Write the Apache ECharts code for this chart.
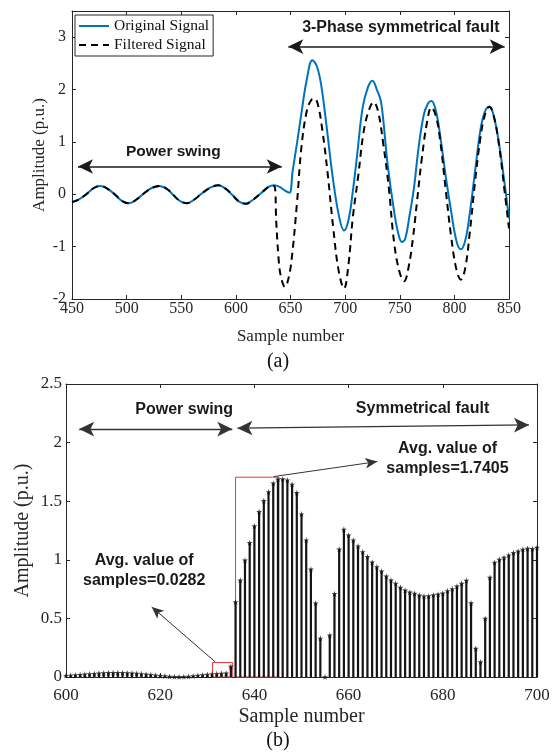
<!DOCTYPE html>
<html>
<head>
<meta charset="utf-8">
<title>Power swing vs symmetrical fault</title>
<script src="https://cdn.jsdelivr.net/npm/echarts@6/dist/echarts.min.js"></script>
<style>
  html, body { margin: 0; padding: 0; background: #fff; }
  #chart { width: 555px; height: 752px; }
</style>
</head>
<body>
<div id="chart"></div>
<script>
// (a) signals, sample number / amplitude
const origX = [450, 456, 463, 470, 476, 483, 490, 496, 502, 509, 516, 523, 530, 537, 543, 549, 555, 562, 569, 577,
  584, 591, 597, 603, 609, 616, 623, 630, 635, 640, 645, 649, 652, 656, 660, 665, 670, 674, 678, 683,
  689, 695, 699, 703, 707, 711, 716, 721, 725, 729, 733, 739, 745, 749, 752, 755, 759, 763, 767, 772,
  776, 779, 783, 787, 792, 797, 802, 806, 810, 814, 819, 824, 828, 832, 836, 841, 846, 850];
const origY = [-0.15, -0.10, 0.0, 0.12, 0.16, 0.10, -0.02, -0.13, -0.17, -0.10, 0.02, 0.12, 0.16, 0.10, -0.02, -0.13, -0.17, -0.10, 0.02, 0.13,
  0.17, 0.10, -0.02, -0.14, -0.18, -0.10, 0.02, 0.14, 0.17, 0.14, 0.07, 0.03, 0.45, 0.98, 1.55, 2.2, 2.56, 2.45, 2.1, 1.3,
  0.27, -0.48, -0.69, -0.5, 0.05, 0.75, 1.65, 2.05, 2.17, 2.0, 1.75, 0.55, -0.35, -0.78, -0.91, -0.85, -0.4, 0.12, 0.85, 1.52,
  1.74, 1.78, 1.6, 1.12, 0.35, -0.32, -0.9, -1.05, -0.88, -0.38, 0.45, 1.25, 1.58, 1.67, 1.5, 0.95, 0.2, -0.46];

const filtX = [450, 456, 463, 470, 476, 483, 490, 496, 502, 509, 516, 523, 530, 537, 543, 549, 555, 562, 569, 577,
  584, 591, 597, 603, 609, 616, 623, 630, 635, 637, 639, 641, 645, 648, 651, 656, 660, 665, 669, 672,
  675, 679, 684, 689, 694, 699, 703, 707, 712, 717, 722, 726, 730, 735, 740, 745, 750, 754, 758, 762,
  766, 770, 775, 779, 783, 787, 792, 797, 802, 806, 810, 814, 819, 824, 828, 832, 836, 841, 846, 850];
const filtY = [-0.15, -0.10, 0.0, 0.12, 0.16, 0.10, -0.02, -0.13, -0.17, -0.10, 0.02, 0.12, 0.16, 0.10, -0.02, -0.13, -0.17, -0.10, 0.02, 0.13,
  0.17, 0.10, -0.02, -0.14, -0.18, -0.10, 0.02, 0.14, 0.16, -0.55, -1.2, -1.55, -1.77, -1.62, -1.25, -0.15, 0.9, 1.6, 1.8, 1.83,
  1.72, 1.25, 0.4, -0.62, -1.45, -1.8, -1.35, -0.45, 0.35, 1.2, 1.62, 1.76, 1.6, 0.95, 0.12, -0.95, -1.5, -1.66, -1.4, -0.85,
  -0.1, 0.65, 1.38, 1.66, 1.5, 1.03, 0.1, -0.8, -1.45, -1.63, -1.4, -0.75, 0.25, 1.1, 1.52, 1.67, 1.5, 0.92, 0.05, -0.65];

// (b) stem samples 600..700
const stemX = [600, 601, 602, 603, 604, 605, 606, 607, 608, 609, 610, 611, 612, 613, 614, 615, 616, 617, 618, 619,
  620, 621, 622, 623, 624, 625, 626, 627, 628, 629, 630, 631, 632, 633, 634, 635, 636, 637, 638, 639,
  640, 641, 642, 643, 644, 645, 646, 647, 648, 649, 650, 651, 652, 653, 654, 655, 656, 657, 658, 659,
  660, 661, 662, 663, 664, 665, 666, 667, 668, 669, 670, 671, 672, 673, 674, 675, 676, 677, 678, 679,
  680, 681, 682, 683, 684, 685, 686, 687, 688, 689, 690, 691, 692, 693, 694, 695, 696, 697, 698, 699, 700];
const stemY = [0.012, 0.014, 0.017, 0.02, 0.023, 0.026, 0.029, 0.032, 0.034, 0.036, 0.037, 0.037, 0.036, 0.035, 0.033, 0.030, 0.027, 0.023, 0.019, 0.015,
  0.011, 0.008, 0.005, 0.003, 0.002, 0.003, 0.005, 0.009, 0.013, 0.017, 0.021, 0.025, 0.028, 0.030, 0.033, 0.09, 0.64, 0.826, 0.997, 1.145,
  1.288, 1.41, 1.504, 1.58, 1.653, 1.687, 1.69, 1.68, 1.644, 1.573, 1.39, 1.168, 0.92, 0.63, 0.33, 0.0, 0.356, 0.71, 1.09, 1.26,
  1.21, 1.168, 1.117, 1.068, 1.026, 0.98, 0.94, 0.903, 0.86, 0.826, 0.798, 0.764, 0.741, 0.724, 0.712, 0.698, 0.69, 0.692, 0.70, 0.706,
  0.715, 0.735, 0.752, 0.775, 0.798, 0.824, 0.632, 0.243, 0.128, 0.499, 0.85, 0.978, 1.003, 1.02, 1.04, 1.06, 1.074, 1.089, 1.097, 1.094, 1.106];

const serif = '"Liberation Serif", "Times New Roman", serif';
const sans = '"Liberation Sans", Arial, sans-serif';
const axisColor = '#262626';
const star = 'path://M50,0 L61,35 L98,35 L68,57 L79,91 L50,70 L21,91 L32,57 L2,35 L39,35 Z';

function pairs(xs, ys) {
  return xs.map((x, i) => [x, ys[i]]);
}

// shared look for the boxed MATLAB style axes
function axis(o) {
  return Object.assign({
    type: 'value',
    nameMoveOverlap: false,
    axisLine: { show: true, onZero: false, lineStyle: { color: axisColor, width: 1 } },
    axisTick: { show: true, inside: true, length: 4, lineStyle: { color: axisColor } },
    splitLine: { show: false },
    nameTextStyle: { color: axisColor, fontFamily: serif },
    axisLabel: { color: axisColor, fontFamily: serif, fontSize: 16 }
  }, o);
}

function label(text, x, y, size) {
  return {
    coord: [x, y], symbol: 'circle', symbolSize: 1,
    itemStyle: { color: 'rgba(0,0,0,0)' },
    label: {
      show: true, position: 'inside', formatter: text,
      fontFamily: sans, fontWeight: 'bold', fontSize: size, color: '#1a1a1a', lineHeight: 20
    }
  };
}

const arrowLine = { color: '#1a1a1a', width: 1.5, type: 'solid' };

const option = {
  animation: false,
  grid: [
    { left: 72, top: 11, width: 437, height: 288 },
    { left: 66, top: 384, width: 471, height: 293 }
  ],
  legend: {
    data: ['Original Signal', 'Filtered Signal'],
    orient: 'vertical',
    left: 75, top: 15,
    padding: [3, 4, 3, 3],
    itemWidth: 30, itemHeight: 14, itemGap: 3,
    backgroundColor: '#fff',
    borderColor: '#262626', borderWidth: 1,
    selectedMode: false,
    // hide the symbol the line legend icon draws, keep the line
    itemStyle: { color: 'rgba(0,0,0,0)', borderColor: 'rgba(0,0,0,0)', borderWidth: 0, opacity: 0 },
    textStyle: { fontFamily: serif, fontSize: 15.5, color: '#111' }
  },
  xAxis: [
    axis({ gridIndex: 0, min: 450, max: 850, interval: 50, name: 'Sample number', nameLocation: 'middle', nameGap: 29,
      nameTextStyle: { color: axisColor, fontFamily: serif, fontSize: 17 },
      axisLabel: { color: axisColor, fontFamily: serif, fontSize: 16, margin: 2 } }),
    axis({ gridIndex: 0, min: 450, max: 850, interval: 50, position: 'top', axisLabel: { show: false } }),
    axis({ gridIndex: 1, min: 600, max: 700, interval: 20, name: 'Sample number', nameLocation: 'middle', nameGap: 30,
      nameTextStyle: { color: axisColor, fontFamily: serif, fontSize: 20 },
      axisLabel: { color: axisColor, fontFamily: serif, fontSize: 17, margin: 10 } }),
    axis({ gridIndex: 1, min: 600, max: 700, interval: 20, position: 'top', axisLabel: { show: false } })
  ],
  yAxis: [
    axis({ gridIndex: 0, min: -2, max: 3.5, interval: 1, name: 'Amplitude (p.u.)', nameLocation: 'middle', nameGap: 24,
      nameTextStyle: { color: axisColor, fontFamily: serif, fontSize: 17 },
      axisLabel: { color: axisColor, fontFamily: serif, fontSize: 16, margin: 6, showMaxLabel: false } }),
    axis({ gridIndex: 0, min: -2, max: 3.5, interval: 1, position: 'right', axisLabel: { show: false } }),
    axis({ gridIndex: 1, min: 0, max: 2.5, interval: 0.5, name: 'Amplitude (p.u.)', nameLocation: 'middle', nameGap: 33,
      nameTextStyle: { color: axisColor, fontFamily: serif, fontSize: 20 },
      axisLabel: { color: axisColor, fontFamily: serif, fontSize: 17, margin: 4 } }),
    axis({ gridIndex: 1, min: 0, max: 2.5, interval: 0.5, position: 'right', axisLabel: { show: false } })
  ],
  series: [
    {
      name: 'Original Signal', type: 'line', xAxisIndex: 0, yAxisIndex: 0,
      data: pairs(origX, origY), smooth: 0.4, symbol: 'none',
      lineStyle: { color: '#0072BD', width: 2 }, itemStyle: { color: '#0072BD' }, z: 2
    },
    {
      name: 'Filtered Signal', type: 'line', xAxisIndex: 0, yAxisIndex: 0,
      data: pairs(filtX, filtY), smooth: 0.4, symbol: 'none',
      lineStyle: { color: '#000', width: 2, type: [7, 5] }, itemStyle: { color: '#000' }, z: 3,
      markLine: {
        silent: true, symbol: ['arrow', 'arrow'], symbolSize: [11, 15],
        lineStyle: arrowLine, label: { show: false },
        data: [
          [{ coord: [455.5, 0.53] }, { coord: [642, 0.53] }],
          [{ coord: [648, 2.82] }, { coord: [846, 2.82] }]
        ]
      },
      markPoint: {
        silent: true,
        data: [
          label('Power swing', 542.7, 0.81, 15.5),
          label('3-Phase symmetrical fault', 751, 3.18, 16)
        ]
      }
    },
    {
      name: 'stems', type: 'bar', xAxisIndex: 2, yAxisIndex: 2,
      data: pairs(stemX, stemY), barWidth: 2.2,
      itemStyle: { color: '#141414' },
      markArea: {
        silent: true,
        itemStyle: { color: 'rgba(0,0,0,0)', borderColor: '#e8383d', borderWidth: 1 },
        data: [
          [{ coord: [631.1, 0.123] }, { coord: [635.4, -0.05] }],
          [{ coord: [636, 1.705] }, { coord: [645.2, -0.03] }]
        ]
      },
      markLine: {
        silent: true, symbol: ['arrow', 'arrow'], symbolSize: [11, 15],
        lineStyle: { color: '#333', width: 1.3, type: 'solid' }, label: { show: false },
        data: [
          [{ coord: [602.8, 2.115] }, { coord: [635.3, 2.115] }],
          [{ coord: [636.4, 2.123] }, { coord: [698.3, 2.151] }],
          [{ coord: [644.1, 1.71], symbol: 'none' }, { coord: [666.1, 1.838], symbolSize: [8, 12], lineStyle: { width: 1 } }],
          [{ coord: [631.7, 0.128], symbol: 'none' }, { coord: [618.2, 0.598], symbolSize: [8, 12], lineStyle: { width: 1 } }]
        ]
      },
      markPoint: {
        silent: true,
        data: [
          label('Power swing', 625.1, 2.285, 16),
          label('Symmetrical fault', 675.7, 2.294, 16),
          label('Avg. value of\nsamples=1.7405', 681, 1.86, 16),
          label('Avg. value of\nsamples=0.0282', 616.6, 0.906, 16)
        ]
      }
    },
    {
      name: 'stem heads', type: 'scatter', xAxisIndex: 2, yAxisIndex: 2,
      data: pairs(stemX, stemY), symbol: star, symbolSize: 6,
      itemStyle: { color: '#111' }, z: 4
    }
  ],
  graphic: [
    { type: 'text', x: 278, y: 362, style: { text: '(a)', font: '20px ' + serif, fill: '#111', align: 'center', verticalAlign: 'middle' } },
    { type: 'text', x: 278, y: 741, style: { text: '(b)', font: '20px ' + serif, fill: '#111', align: 'center', verticalAlign: 'middle' } }
  ]
};

const myChart = echarts.init(document.getElementById('chart'));
myChart.setOption(option);
</script>
</body>
</html>
